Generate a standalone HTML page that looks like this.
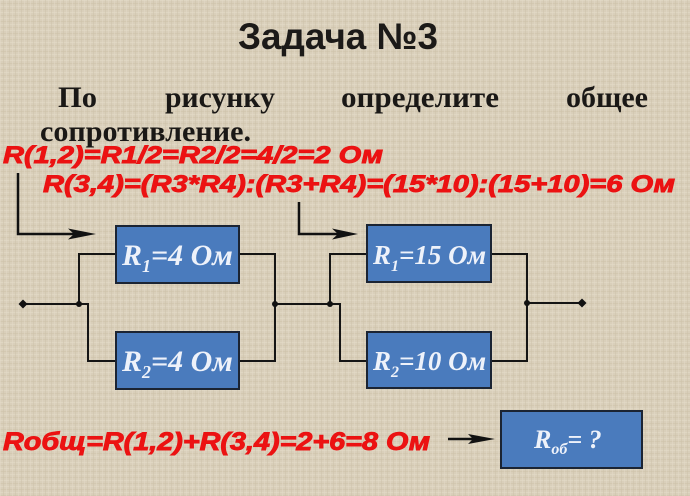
<!DOCTYPE html>
<html>
<head>
<meta charset="utf-8">
<style>
  html, body { margin: 0; padding: 0; }
  body { width: 690px; height: 496px; overflow: hidden; background: #d8cdb7; }
  svg { display: block; }
  .title { font-family: "Liberation Sans", "DejaVu Sans", sans-serif; font-weight: bold; fill: #1c1a18; }
  .serif { font-family: "Liberation Serif", "DejaVu Serif", serif; font-weight: bold; fill: #1a1816; }
  .red { font-family: "Liberation Sans", "DejaVu Sans", sans-serif; font-weight: bold; font-style: italic; fill: #ec1212; stroke: #e81010; stroke-width: 0.9; paint-order: stroke; }
  .lbl { font-family: "Liberation Serif", "DejaVu Serif", serif; font-weight: bold; font-style: italic; fill: #eef2fa; }
</style>
</head>
<body>
<svg width="690" height="496" viewBox="0 0 690 496" xmlns="http://www.w3.org/2000/svg">
  <defs>
    <pattern id="linen" width="6" height="6" patternUnits="userSpaceOnUse">
      <rect width="6" height="6" fill="#d9cfba"/>
      <rect x="0" y="0" width="6" height="1" fill="#e2d9c6" opacity="0.7"/>
      <rect x="0" y="3" width="6" height="1" fill="#cfc3ab" opacity="0.6"/>
      <rect x="0" y="0" width="1" height="6" fill="#e3dac8" opacity="0.5"/>
      <rect x="3" y="0" width="1" height="6" fill="#cdc1a9" opacity="0.5"/>
    </pattern>
  </defs>
  <rect width="690" height="496" fill="url(#linen)"/>

  <!-- Title -->
  <text class="title" x="238" y="49" font-size="37" textLength="200" lengthAdjust="spacingAndGlyphs">Задача №3</text>

  <!-- Task text -->
  <text class="serif" x="58" y="107" font-size="30" textLength="39" lengthAdjust="spacingAndGlyphs">По</text>
  <text class="serif" x="165" y="107" font-size="30" textLength="110" lengthAdjust="spacingAndGlyphs">рисунку</text>
  <text class="serif" x="341" y="107" font-size="30" textLength="158" lengthAdjust="spacingAndGlyphs">определите</text>
  <text class="serif" x="566" y="107" font-size="30" textLength="82" lengthAdjust="spacingAndGlyphs">общее</text>
  <text class="serif" x="40" y="141" font-size="30" textLength="211" lengthAdjust="spacingAndGlyphs">сопротивление.</text>

  <!-- Red solution lines -->
  <text class="red" x="3" y="163" font-size="24" textLength="380" lengthAdjust="spacingAndGlyphs">R(1,2)=R1/2=R2/2=4/2=2 Ом</text>
  <text class="red" x="43" y="192" font-size="24" textLength="632" lengthAdjust="spacingAndGlyphs">R(3,4)=(R3*R4):(R3+R4)=(15*10):(15+10)=6 Ом</text>
  <text class="red" x="3" y="450" font-size="25" textLength="427" lengthAdjust="spacingAndGlyphs">Rобщ=R(1,2)+R(3,4)=2+6=8 Ом</text>

  <!-- Pointer arrows -->
  <g stroke="#111" stroke-width="2.5" fill="none">
    <path d="M18 173 V234 H74"/>
    <path d="M299 202 V234 H338"/>
    <path d="M448 439 H474"/>
  </g>
  <g fill="#111">
    <polygon points="68,228.5 96,234 68,239.5 74,234"/>
    <polygon points="332,228.5 358,234 332,239.5 338,234"/>
    <polygon points="468,434 495,439 468,444 473,439"/>
  </g>

  <!-- Circuit wires -->
  <g stroke="#151515" stroke-width="2" fill="none">
    <path d="M23 304 H79"/>
    <path d="M116 254 H79 V304 H88 V361 H116"/>
    <path d="M239 254 H275 V361 H239"/>
    <path d="M275 304 H330"/>
    <path d="M367 254 H330 V304 H340 V361 H367"/>
    <path d="M491 254 H527 V361 H491"/>
    <path d="M527 303 H582"/>
  </g>
  <g fill="#111">
    <polygon points="23,299.5 27.5,304 23,308.5 18.5,304"/>
    <circle cx="79" cy="304" r="3"/>
    <circle cx="275" cy="304" r="3"/>
    <circle cx="330" cy="304" r="3"/>
    <circle cx="527" cy="303" r="3"/>
    <polygon points="582,298.5 586.5,303 582,307.5 577.5,303"/>
  </g>

  <!-- Resistor boxes -->
  <g fill="#4a7bbd" stroke="#1b2433" stroke-width="2">
    <rect x="116" y="226" width="123" height="57"/>
    <rect x="116" y="332" width="123" height="57"/>
    <rect x="367" y="225" width="124" height="57"/>
    <rect x="367" y="332" width="124" height="56"/>
    <rect x="501" y="411" width="141" height="57"/>
  </g>

  <!-- Box labels -->
  <text class="lbl" x="122" y="265" font-size="30">R<tspan font-size="18" dy="7">1</tspan><tspan dy="-7">=4 Ом</tspan></text>
  <text class="lbl" x="122" y="371" font-size="30">R<tspan font-size="18" dy="7">2</tspan><tspan dy="-7">=4 Ом</tspan></text>
  <text class="lbl" x="373" y="264" font-size="27">R<tspan font-size="16" dy="7">1</tspan><tspan dy="-7">=15 Ом</tspan></text>
  <text class="lbl" x="373" y="370" font-size="27">R<tspan font-size="16" dy="7">2</tspan><tspan dy="-7">=10 Ом</tspan></text>
  <text class="lbl" x="534" y="448" font-size="26">R<tspan font-size="16" dy="6">об</tspan><tspan dy="-6">= ?</tspan></text>
</svg>
</body>
</html>
